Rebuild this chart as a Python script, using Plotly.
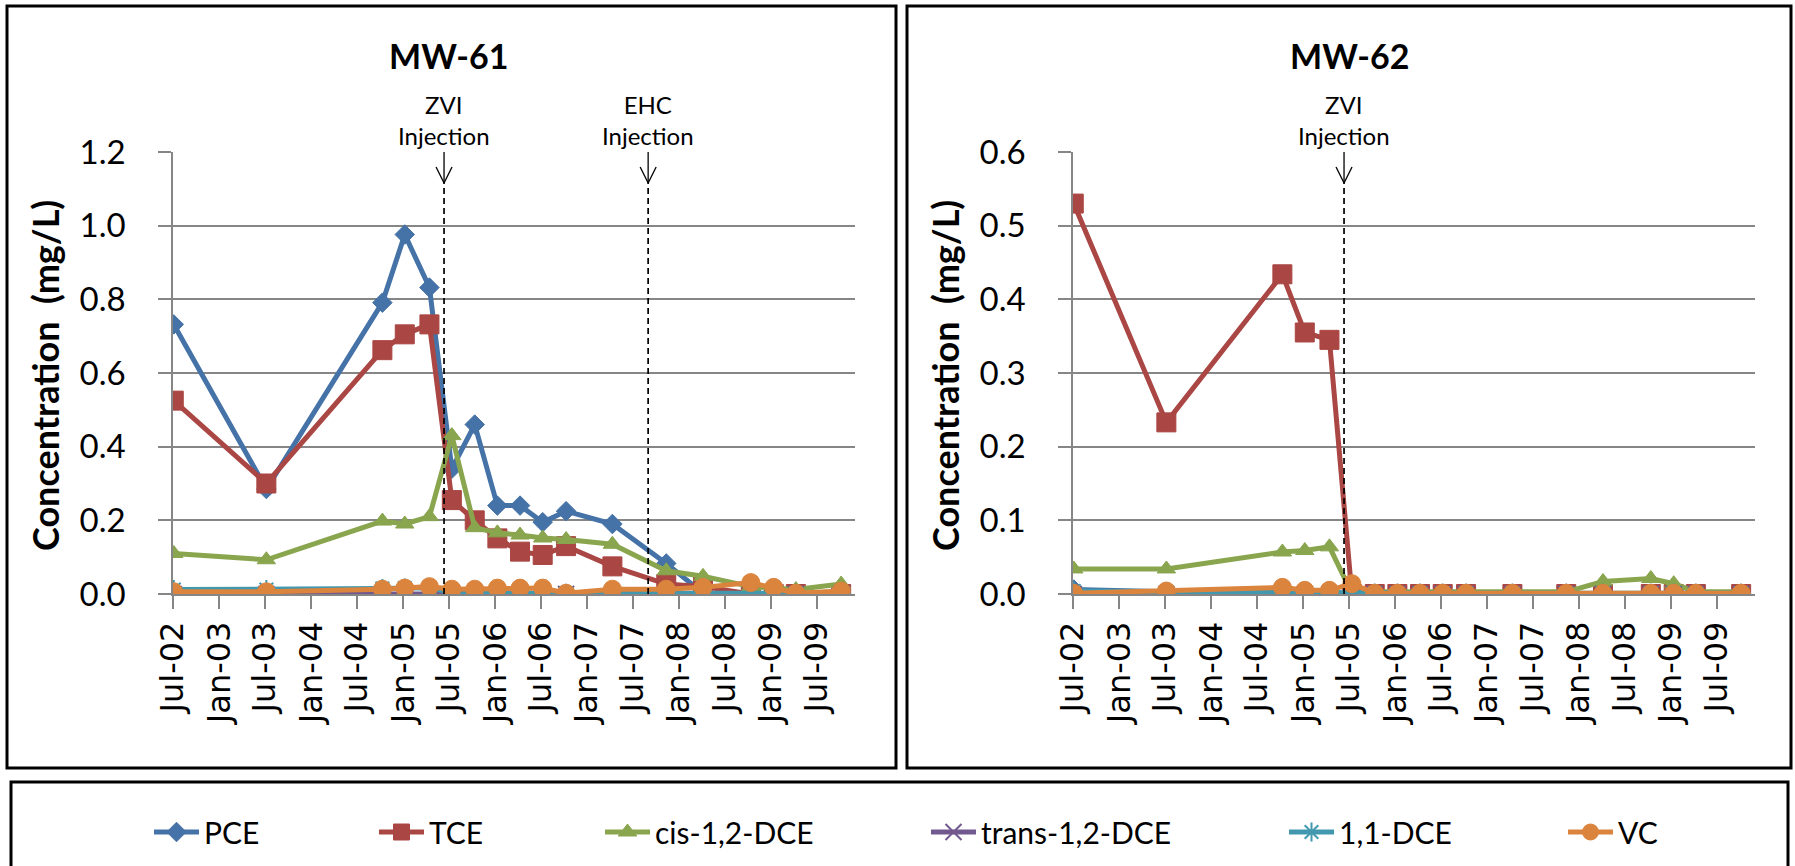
import plotly.graph_objects as go

# ---------------- data ----------------
DATES = ["2002-07-04", "2003-07-07", "2004-10-10", "2005-01-07", "2005-04-15",
         "2005-07-13", "2005-10-12", "2006-01-10", "2006-04-10", "2006-07-09",
         "2006-10-10", "2007-04-12", "2007-11-12", "2008-04-06", "2008-10-13",
         "2009-01-12", "2009-04-10", "2009-10-07"]

SERIES = ["PCE", "TCE", "cis-1,2-DCE", "trans-1,2-DCE", "1,1-DCE", "VC"]

MW61_PCE = [0.732, 0.285, 0.791, 0.976, 0.832, 0.340, 0.460, 0.240, 0.240, 0.195,
            0.225, 0.190, 0.083, 0.002, 0.0, 0.0, 0.0, 0.0]
MW61_TCE = [0.525, 0.300, 0.662, 0.705, 0.732, 0.255, 0.200, 0.151, 0.115, 0.106,
            0.130, 0.075, 0.027, 0.020, 0.0, 0.0, 0.0, 0.0]
MW61_CIS = [0.110, 0.093, 0.198, 0.190, 0.210, 0.430, 0.180, 0.166, 0.160, 0.152,
            0.148, 0.135, 0.063, 0.048, 0.020, 0.015, 0.012, 0.027]
MW61_TRANS = [0.0] * 18
MW61_11DCE = [0.012, 0.012, 0.015, 0.016, 0.017, 0.004, 0.003, 0.003, 0.003, 0.003,
              0.002, 0.002, 0.002, 0.002, 0.002, 0.002, 0.002, 0.002]
MW61_VC = [0.006, 0.006, 0.013, 0.016, 0.020, 0.013, 0.013, 0.016, 0.016, 0.016,
           0.002, 0.013, 0.013, 0.018, 0.031, 0.018, 0.002, 0.008]

MW62_PCE = [0.006, 0.003, 0.002, 0.002, 0.002, 0.0, 0.0, 0.0, 0.0, 0.0,
            0.0, 0.0, 0.0, 0.0, 0.0, 0.0, 0.0, 0.0]
MW62_TCE = [0.530, 0.233, 0.434, 0.355, 0.345, 0.0, 0.0, 0.0, 0.0, 0.0,
            0.0, 0.0, 0.0, 0.0, 0.0, 0.0, 0.0, 0.0]
MW62_CIS = [0.034, 0.034, 0.057, 0.059, 0.064, 0.001, 0.003, 0.003, 0.003, 0.003,
            0.003, 0.003, 0.003, 0.017, 0.021, 0.014, 0.003, 0.003]
MW62_TRANS = [0.0] * 18
MW62_11DCE = [0.004, 0.003, 0.002, 0.002, 0.002, 0.002, 0.001, 0.001, 0.001, 0.001,
              0.001, 0.001, 0.001, 0.001, 0.001, 0.001, 0.001, 0.001]
MW62_VC = [0.001, 0.004, 0.009, 0.005, 0.005, 0.014, 0.001, 0.001, 0.001, 0.001,
           0.001, 0.001, 0.001, 0.001, 0.001, 0.001, 0.001, 0.001]

WELLS = ["MW-61", "MW-62"]
Y_MAX = [1.2, 0.6]
Y_STEP = [0.2, 0.1]
X_RANGE = ["2002-07-01", "2009-12-01"]

INJECTIONS_MW61 = [("2005-06-12", "ZVI<br>Injection"), ("2007-09-01", "EHC<br>Injection")]
INJECTIONS_MW62 = [("2005-06-12", "ZVI<br>Injection")]

# ---------------- style ----------------
COLORS = ["#4572A7", "#AA4643", "#89A54E", "#71588F", "#4198AF", "#DB843D"]
SYMBOLS = ["diamond", "square", "triangle-up", "x-thin-open", "asterisk-open", "circle"]
SIZES = [15, 19, 16, 16, 16, 18]

W, H = 1795, 866
GRID = "#868686"
NUM_FONT = "Lato, sans-serif"
XT_FONT = "DejaVu Sans, sans-serif"

panel_data = [
    [MW61_PCE, MW61_TCE, MW61_CIS, MW61_TRANS, MW61_11DCE, MW61_VC],
    [MW62_PCE, MW62_TCE, MW62_CIS, MW62_TRANS, MW62_11DCE, MW62_VC],
]
injections = [INJECTIONS_MW61, INJECTIONS_MW62]

OFFSET = 900
PLOT_L, PLOT_R, PLOT_T, PLOT_B = 173, 855, 152, 594

fig = go.Figure()

for p, vals in enumerate(panel_data):
    xa = "x" if p == 0 else "x2"
    ya = "y" if p == 0 else "y2"
    for i, name in enumerate(SERIES):
        c = COLORS[i]
        fig.add_trace(go.Scatter(
            x=DATES, y=vals[i], name=name, mode="lines+markers",
            xaxis=xa, yaxis=ya,
            line=dict(color=c, width=5),
            marker=dict(symbol=SYMBOLS[i], size=SIZES[i], color=c,
                        line=dict(color=c, width=2 if "open" in SYMBOLS[i] else 1)),
            legendgroup=name, showlegend=(p == 0),
            legend="legend" if i == 0 else f"legend{i + 1}",
        ))

def xdom(p):
    return [(PLOT_L + p * OFFSET) / W, (PLOT_R + p * OFFSET) / W]

ydom = [1 - PLOT_B / H, 1 - PLOT_T / H]

layout = dict(
    width=W, height=H,
    margin=dict(l=0, r=0, t=0, b=0),
    paper_bgcolor="white", plot_bgcolor="white",
    showlegend=True,
)

for p in range(2):
    sfx = "" if p == 0 else "2"
    layout["xaxis" + sfx] = dict(
        domain=xdom(p), anchor="y" + sfx, type="date", range=X_RANGE,
        tick0="2002-07-01", dtick="M6", tickformat="%b-%y", tickangle=-90,
        ticks="outside", ticklen=13, tickcolor=GRID, tickwidth=1.5,
        showline=True, linecolor=GRID, linewidth=1.5, showgrid=False,
        zeroline=False, automargin=False,
        tickfont=dict(family=XT_FONT, size=32, color="black"),
        ticklabelstandoff=0,
    )
    layout["yaxis" + sfx] = dict(
        domain=ydom, anchor="x" + sfx, range=[0, Y_MAX[p]],
        tick0=0, dtick=Y_STEP[p], tickformat=".1f",
        ticks="outside", ticklen=13, tickcolor=GRID, tickwidth=1.5,
        showline=True, linecolor=GRID, linewidth=1.5,
        showgrid=True, gridcolor=GRID, gridwidth=1.5,
        zeroline=False, automargin=False,
        tickfont=dict(family=NUM_FONT, size=33, color="black"),
        ticklabelstandoff=26,
    )

# one legend per series so each entry sits where the original places it
LEGEND_X = [149, 374, 600, 926, 1284, 1563]
for i in range(len(SERIES)):
    key = "legend" if i == 0 else f"legend{i + 1}"
    layout[key] = dict(
        x=LEGEND_X[i] / W, y=1 - 832 / H, xanchor="left", yanchor="middle",
        orientation="h", itemwidth=45, bgcolor="rgba(0,0,0,0)",
        borderwidth=0, font=dict(family=NUM_FONT, size=30, color="black"),
    )

fig.update_layout(**layout)

shapes = []
annotations = []

for p in range(2):
    x0 = 7 + p * OFFSET
    x1 = 896 if p == 0 else 1791
    shapes.append(dict(type="rect", xref="paper", yref="paper",
                       x0=x0 / W, x1=x1 / W, y0=1 - 768 / H, y1=1 - 6 / H,
                       line=dict(color="black", width=3), fillcolor="rgba(0,0,0,0)",
                       layer="below"))
shapes.append(dict(type="rect", xref="paper", yref="paper",
                   x0=11 / W, x1=1788 / W, y0=-0.05, y1=1 - 782 / H,
                   line=dict(color="black", width=3), fillcolor="rgba(0,0,0,0)",
                   layer="below"))

ARROW_FRAC = 0.93
for p in range(2):
    xr = "x" if p == 0 else "x2"
    yr = "y" if p == 0 else "y2"
    ymax = Y_MAX[p]
    tip = ymax * ARROW_FRAC
    for d, label in injections[p]:
        shapes.append(dict(type="line", xref=xr, yref=yr, x0=d, x1=d, y0=0, y1=tip,
                           line=dict(color="black", width=1.7, dash="6px,4px")))
        shapes.append(dict(type="line", xref=xr, yref=yr, x0=d, x1=d, y0=tip, y1=ymax,
                           line=dict(color="black", width=1.3)))
        for s in (-1, 1):
            shapes.append(dict(type="line", xref=xr, yref=yr,
                               xsizemode="pixel", ysizemode="pixel",
                               xanchor=d, yanchor=tip,
                               x0=0, y0=0, x1=8 * s, y1=16,
                               line=dict(color="black", width=1.3)))
        annotations.append(dict(xref=xr, yref=yr + " domain", x=d, y=1,
                                xanchor="center", yanchor="bottom", yshift=0,
                                text=label, showarrow=False, align="center",
                                font=dict(family=NUM_FONT, size=24, color="black")))

    annotations.append(dict(xref="paper", yref="paper",
                            x=(449 + p * OFFSET) / W, y=1 - 55 / H,
                            xanchor="center", yanchor="middle",
                            text="<b>" + WELLS[p] + "</b>", showarrow=False,
                            font=dict(family=NUM_FONT, size=34, color="black")))
    annotations.append(dict(xref="paper", yref="paper",
                            x=(45 + p * OFFSET) / W, y=1 - 376 / H,
                            xanchor="center", yanchor="middle", textangle=-90,
                            text="<b>Concentration  (mg/L)</b>", showarrow=False,
                            font=dict(family=NUM_FONT, size=36, color="black")))

fig.update_layout(shapes=shapes, annotations=annotations)

fig.write_html("out.html")
